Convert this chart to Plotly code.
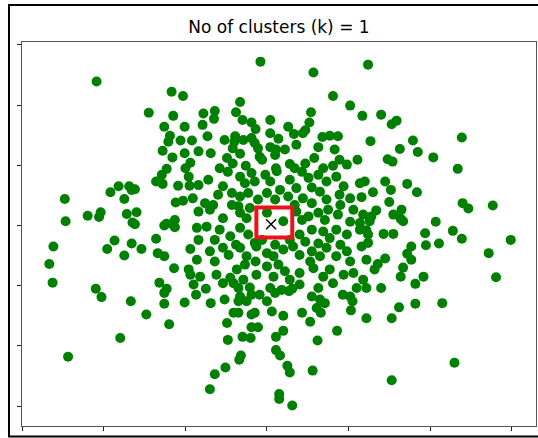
import plotly.graph_objects as go

title_text = "No of clusters (k) = 1"

# points (x ticks at -3..3, y ticks at -3..3)
pts = [
(-2.09,2.39),(-1.17,2.22),(-1.03,2.15),(-1.45,1.87),(-1.15,1.82),(-1.26,1.64),(-1.01,1.64),(-1.19,1.49),
(-1.21,1.39),(-1.06,1.41),(-0.92,1.41),(-1.28,1.24),(-1.01,1.20),(-0.84,1.23),(-1.16,1.13),(-0.94,1.04),
(-1.23,0.94),(-1.00,0.95),
(-0.08,2.72),(0.57,2.54),(1.24,2.67),(0.81,2.15),(1.02,1.99),(1.17,1.82),(-0.33,2.05),(0.54,1.88),
(0.52,1.71),(-0.78,1.86),(-0.64,1.90),(-0.65,1.77),(-0.38,1.88),(-0.30,1.75),(-0.19,1.71),(-0.14,1.60),
(-0.79,1.67),(-0.73,1.48),(0.04,1.53),(0.14,1.44),(0.33,1.52),(0.44,1.53),(0.47,1.58),(0.68,1.47),
(0.77,1.49),(0.87,1.48),(-0.39,1.48),(-0.40,1.39),(-0.29,1.42),(-0.19,1.45),(-0.15,1.37),(-0.42,1.28),
(-0.33,1.19),(-0.11,1.28),(0.04,1.30),(0.11,1.26),(0.36,1.34),(0.63,1.30),(0.83,1.26),(-0.69,1.20),
(-0.09,1.14),(0.10,1.17),(-0.49,1.12),(-0.42,1.03),(0.58,1.12),(0.89,1.09),(1.11,1.09),(-0.58,0.95),
(-0.26,0.99),(0.11,0.95),(0.28,1.02),(0.34,0.95),(0.69,0.95),(0.81,0.99),(1.27,1.40),
(1.40,1.84),(1.53,1.68),(1.59,1.74),(1.79,1.41),(1.63,1.27),(1.85,1.22),(2.04,1.13),(2.39,1.46),
(1.48,1.10),(1.54,1.06),(2.34,0.94),
(-2.48,0.44),(-2.47,0.07),(-2.62,-0.35),(-2.67,-0.64),(-2.63,-0.95),(-2.20,0.16),(-2.06,0.14),(-2.04,0.22),
(-1.92,0.55),(-1.82,0.65),(-1.69,0.65),(-1.66,0.59),(-1.62,0.60),(-1.75,0.44),(-1.72,0.19),(-1.60,0.22),
(-1.65,0.05),(-1.62,0.02),(-1.87,-0.25),(-1.96,-0.39),(-1.66,-0.30),(-1.54,-0.39),(-1.75,-0.50),(-2.10,-1.05),
(-1.36,-0.22),(-1.34,-0.46),(-1.26,-0.51),(-1.14,-0.71),(-1.32,-0.95),(-1.23,-1.05),(-1.36,0.73),(-1.29,0.84),
(-1.28,0.69),(-1.09,0.66),(-0.96,0.81),(-0.95,0.66),(-0.84,0.67),(-0.91,0.45),(-1.12,0.38),(-1.03,0.41),
(-1.13,0.09),(-1.26,-0.00),(-1.23,0.03),(-1.13,-0.03),(-0.84,0.23),(-0.94,-0.39),(-0.84,-0.24),(-0.86,-0.57),
(-0.96,-0.73),(-0.94,-0.82),(-0.82,-0.85),(-0.90,-0.98),
(-0.19,0.87),(0.47,1.03),(0.98,1.01),(-0.72,0.76),(-0.54,0.65),(-0.33,0.81),(-0.27,0.70),(-0.15,0.73),
(-0.02,0.84),(0.12,0.90),(0.04,0.73),(0.28,0.76),(0.36,0.62),(0.51,0.79),(0.63,0.84),(0.73,0.73),
(0.85,0.81),(0.94,0.65),(-0.76,0.37),(-0.66,0.34),(-0.43,0.54),(-0.33,0.48),(-0.23,0.54),(-0.11,0.43),
(-0.00,0.54),(0.16,0.59),(0.26,0.48),(0.44,0.45),(0.55,0.37),(0.65,0.56),(0.73,0.43),(0.89,0.51),
(1.02,0.45),(-0.70,0.26),(-0.54,0.12),(-0.35,0.32),(-0.33,0.21),(-0.25,0.12),(-0.00,0.21),(0.20,0.07),
(0.36,0.23),(0.43,0.09),(0.51,0.15),(0.63,0.21),(0.75,0.26),(0.87,0.18),(1.06,0.26),(1.18,0.18),
(-0.86,-0.04),(-0.74,-0.02),(-0.58,-0.07),(-0.45,-0.18),(-0.33,-0.04),(-0.23,-0.15),(-0.15,-0.29),(0.28,-0.24),
(0.40,-0.15),(0.47,-0.27),(0.55,-0.07),(0.69,-0.10),(0.77,-0.21),(0.85,-0.07),(0.98,-0.15),(1.14,-0.07),
(1.24,-0.29),(-0.70,-0.43),(-0.54,-0.37),(-0.47,-0.49),(-0.33,-0.37),(-0.25,-0.51),(-0.13,-0.35),(-0.00,-0.46),
(0.08,-0.51),(0.20,-0.40),(0.32,-0.35),(0.40,-0.49),(0.55,-0.43),(0.65,-0.51),(0.73,-0.37),(0.85,-0.51),
(0.98,-0.43),(1.22,-0.57),(-0.62,-0.82),(-0.54,-0.96),(-0.37,-0.73),(-0.29,-0.90),(-0.13,-0.82),(-0.00,-0.68),
(0.08,-0.85),(0.22,-0.76),(0.28,-0.90),(0.40,-0.79),(0.57,-0.71),(0.69,-0.85),(0.77,-0.73),(0.94,-0.82),
(1.06,-0.79),(1.18,-0.90),(0.04,-1.04),(1.10,-1.04),
(1.20,0.73),(1.14,0.70),(1.45,0.73),(1.52,0.59),(1.30,0.55),(1.72,0.69),(1.84,0.55),(1.16,0.47),
(1.50,0.39),(1.34,0.25),(1.28,0.15),(1.26,0.07),(1.14,0.04),(1.55,0.18),(1.65,0.26),(1.64,0.11),
(1.67,0.07),(2.40,0.37),(2.47,0.28),(2.77,0.33),(2.07,0.06),(1.94,-0.13),(2.28,-0.09),(2.39,-0.22),
(1.22,-0.08),(1.24,-0.15),(1.43,-0.14),(1.55,-0.14),(1.95,-0.33),(2.11,-0.30),(2.99,-0.24),(1.77,-0.35),
(1.72,-0.47),(1.77,-0.57),(1.16,-0.35),(1.45,-0.55),(1.36,-0.64),(1.32,-0.73),(1.67,-0.70),(1.64,-0.85),
(1.92,-0.85),(2.72,-0.46),(2.81,-0.86),(1.82,-0.97),(1.22,-1.04),(1.40,-1.04),
(-2.03,-1.19),(-1.67,-1.26),(-1.48,-1.48),(-1.26,-1.12),(-1.26,-1.30),(-1.20,-1.64),(-1.01,-1.28),(-0.87,-1.15),
(-1.80,-1.87),(-2.44,-2.18),
(-0.75,-1.05),(-0.69,-1.29),(-0.41,-0.96),(-0.35,-1.04),(-0.33,-1.18),(-0.35,-1.26),(-0.19,-1.15),(-0.09,-1.15),
(-0.00,-1.26),(-0.25,-1.26),(-0.41,-1.45),(-0.35,-1.45),(-0.49,-1.62),(-0.19,-1.48),(-0.15,-1.45),(-0.19,-1.69),
(-0.11,-1.69),(-0.30,-1.85),(-0.20,-1.87),(-0.48,-1.90),(0.10,-1.12),(0.20,-1.50),(0.20,-1.75),(0.11,-1.85),
(0.27,-1.09),(0.31,-1.05),(0.43,-1.45),(0.40,-0.98),(0.55,-1.18),(0.61,-1.37),(0.66,-1.45),(0.65,-1.23),
(0.71,-1.29),(0.63,-1.04),(0.81,-0.96),(1.02,-1.18),(1.05,-1.26),(1.03,-1.41),(1.22,-1.54),(0.86,-1.75),
(0.62,-1.91),(0.11,-2.07),(0.16,-2.16),(-0.32,-2.16),(-0.34,-2.23),(-0.51,-2.36),(-0.64,-2.47),(-0.70,-2.72),
(0.25,-2.33),(0.28,-2.44),(0.56,-2.41),(0.15,-2.80),(0.15,-2.88),(0.31,-2.99),
(1.62,-1.36),(1.82,-1.30),(2.15,-1.29),(1.53,-1.54),(2.30,-2.28),(1.53,-2.57),
# dense core, estimated
(-0.48,0.89),(-0.06,1.09),(0.43,0.89),(0.55,0.63),(-0.43,0.34),(-0.60,0.51),(-0.21,0.29),(0.10,0.43),
(0.34,0.34),(0.90,0.34),(-0.64,-0.24),(-0.38,-0.32),(-0.06,-0.24),(0.10,-0.32),(0.63,-0.30),(0.90,-0.32),
(-0.64,-0.60),(-0.14,-0.60),(0.14,-0.65),(0.53,-0.60),(1.02,-0.60),(-0.45,-0.87),(-0.21,-1.03),(0.18,-1.07),
(0.93,-1.15),(-0.52,-1.23),(0.06,-1.43),(0.53,-1.60),(0.22,1.26),(-0.52,1.42),(0.26,1.64),(0.04,1.75),
(0.71,0.09),(1.02,0.06),(-0.27,-0.65),
]
x_vals = [p[0] for p in pts]
y_vals = [p[1] for p in pts]

centroid_x = [0.05]
centroid_y = [0.02]
box_x = [-0.13, 0.31]
box_y = [-0.20, 0.30]

tick_vals = [-3, -2, -1, 0, 1, 2, 3]

fig = go.Figure()
fig.add_trace(go.Scatter(x=x_vals, y=y_vals, mode="markers",
                         marker=dict(color="#008000", size=10, line=dict(width=0)),
                         hoverinfo="skip", showlegend=False))
fig.add_trace(go.Scatter(x=centroid_x, y=centroid_y, mode="markers",
                         marker=dict(symbol="x-thin", size=10, line=dict(color="black", width=1.5)),
                         hoverinfo="skip", showlegend=False))
fig.add_shape(type="rect", xref="x", yref="y", x0=box_x[0], x1=box_x[1], y0=box_y[0], y1=box_y[1],
              line=dict(color="#e8141c", width=4), fillcolor="rgba(0,0,0,0)")
# outer frame
fig.add_shape(type="rect", xref="paper", yref="paper", x0=-0.0253, x1=1.02, y0=-0.0273, y1=1.0962,
              line=dict(color="black", width=2), fillcolor="rgba(0,0,0,0)", layer="above")

axis_common = dict(showgrid=False, zeroline=False, showticklabels=False, ticks="outside",
                   ticklen=4, tickwidth=1, tickcolor="#222", showline=True, linecolor="#555",
                   linewidth=1, mirror=True, tickvals=tick_vals)
fig.update_xaxes(range=[-3.005, 3.30], **axis_common)
fig.update_yaxes(range=[-3.33, 3.046], **axis_common)

fig.update_layout(
    width=538, height=438,
    margin=dict(l=22, r=2, t=42, b=12),
    paper_bgcolor="white", plot_bgcolor="white",
    title=dict(text=title_text, x=0.5185, xanchor="center", y=1 - 27.5 / 438, yanchor="middle",
               font=dict(family="DejaVu Sans", size=17, color="black")),
)
fig.write_html("out.html", config={"displayModeBar": False, "staticPlot": True},
               post_script="document.body.style.margin='0';document.body.style.overflow='hidden';")
